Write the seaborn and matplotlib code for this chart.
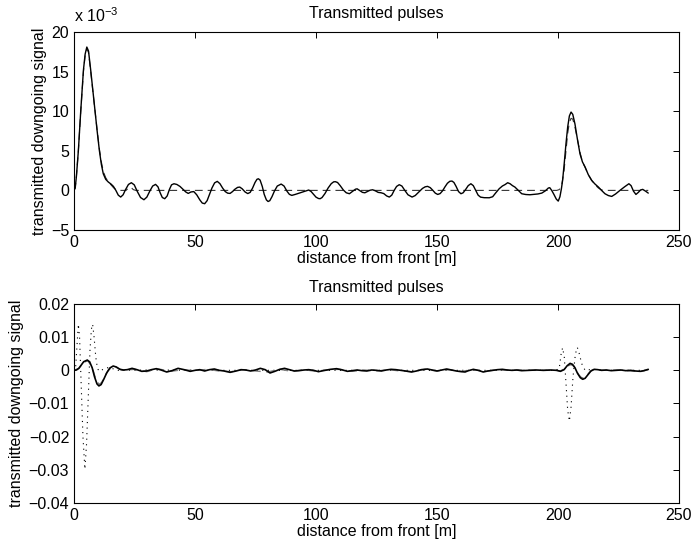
import numpy as np
import pandas as pd
import matplotlib
matplotlib.use("Agg")
import matplotlib.pyplot as plt
import seaborn as sns

# ---------------- data ----------------
# Top panel, values in units of 1e-3
top_solid_x = [0.0, 0.5, 1.0, 1.8, 2.8, 3.9, 4.6, 5.3, 6.0, 6.9, 7.8, 8.7, 9.6, 10.5, 11.3, 12.1, 13.1, 14.2,
               15.3, 16.3, 17.3, 18.3, 19.3, 20.3, 21.3, 22.5, 23.7, 24.9, 26.1, 27.5, 28.9, 30.1, 31.3, 32.5,
               33.7, 34.7, 35.6, 36.5, 37.5, 38.5, 39.4, 40.3, 41.3, 42.5, 43.8, 45.0, 46.2, 47.2, 48.3, 49.5,
               50.7, 52.0, 53.0, 54.0, 55.0, 56.0, 57.0, 58.1, 59.2, 60.3, 61.4, 62.5, 63.5, 64.5, 65.5, 66.5,
               67.6, 68.5, 69.5, 70.7, 71.8, 72.8, 73.8, 74.8, 75.6, 76.2, 76.9, 77.8, 78.6, 79.5, 80.2, 80.9,
               81.8, 82.8, 84.0, 85.6, 86.8, 88.0, 89.0, 90.0, 91.5, 93.0, 94.5, 96.0, 97.0, 98.0, 99.0, 100.0,
               101.0, 101.7, 102.5, 103.7, 105.0, 106.3, 107.3, 108.0, 108.9, 110.0, 111.3, 112.5, 113.8, 115.0,
               116.3, 117.0, 118.0, 119.2, 120.2, 121.2, 122.3, 123.4, 124.5, 125.7, 126.9, 128.0, 129.2, 130.3,
               131.3, 132.3, 133.3, 134.4, 135.5, 136.7, 138.0, 139.7, 141.0, 142.5, 144.0, 145.1, 146.1, 147.2,
               148.3, 149.3, 150.3, 151.3, 152.3, 153.3, 154.3, 155.3, 156.2, 157.0, 157.9, 158.9, 159.9, 160.8,
               161.8, 162.9, 164.0, 165.0, 166.0, 167.0, 168.0, 169.5, 171.6, 173.0, 174.3, 175.7, 177.0, 178.2,
               179.2, 180.2, 181.2, 182.2, 183.6, 185.0, 186.7, 188.4, 190.0, 191.7, 193.3, 194.8, 196.0, 196.6,
               197.4, 198.3, 199.3, 200.1, 200.8, 201.4, 201.9, 202.6, 203.3, 204.0, 204.7, 205.4, 206.1, 207.0,
               208.0, 209.1, 210.1, 211.2, 212.5, 213.9, 215.3, 216.7, 218.0, 219.4, 220.8, 222.2, 223.8, 225.6,
               227.5, 229.3, 230.2, 231.2, 232.2, 233.2, 234.1, 235.0, 236.2, 237.3]
top_solid_y = [0.0, 0.3, 1.8, 5.0, 10.1, 15.2, 17.2, 18.1, 17.6, 15.2, 12.6, 10.1, 7.4, 5.0, 3.3, 2.1, 1.4, 1.05,
               0.8, 0.5, 0.0, -0.6, -0.84, -0.55, 0.1, 0.75, 0.97, 0.7, -0.1, -0.9, -1.18, -0.85, -0.1, 0.55,
               0.76, 0.45, -0.3, -0.9, -1.05, -0.7, 0.1, 0.7, 0.84, 0.75, 0.5, 0.15, -0.2, -0.38, -0.2, -0.15,
               -0.55, -1.2, -1.6, -1.68, -1.3, -0.5, 0.3, 0.95, 1.14, 0.85, 0.3, -0.15, -0.35, -0.38, -0.15, 0.15,
               0.38, 0.42, 0.2, -0.2, -0.4, -0.25, 0.3, 1.0, 1.4, 1.47, 1.3, 0.5, -0.5, -1.2, -1.4, -1.3,
               -0.8, -0.1, 0.55, 0.8, 0.55, -0.1, -0.5, -0.63, -0.5, -0.35, -0.2, -0.05, 0.05, -0.15, -0.5, -0.85,
               -1.02, -1.05, -0.9, -0.4, 0.3, 0.85, 1.08, 1.1, 1.0, 0.6, 0.05, -0.3, -0.42, -0.15,
               0.15, 0.2, 0.0, -0.25, -0.3, -0.15, 0.02, 0.08, -0.05, -0.25, -0.3, -0.4, -0.7, -0.84,
               -0.6, 0.0, 0.5, 0.72, 0.55, 0.0, -0.55, -0.84, -0.65, -0.2, 0.25, 0.45, 0.51, 0.35,
               0.0, -0.35, -0.51, -0.4, -0.05, 0.45, 0.9, 1.15, 1.18, 1.0, 0.5, -0.15, -0.42, -0.3,
               0.1, 0.6, 0.84, 0.6, 0.0, -0.6, -0.85, -0.92, -0.93, -0.8, -0.3, 0.21, 0.55, 0.75,
               0.97, 0.84, 0.6, 0.42, 0.0, -0.42, -0.52, -0.55, -0.5, -0.45, -0.34, -0.05, 0.3, 0.34,
               0.0, -0.5, -1.1, -1.35, -0.8, 0.2, 1.26, 3.5, 5.9, 8.0, 9.4, 9.89, 9.6, 8.4,
               6.5, 4.6, 3.6, 2.95, 2.0, 1.26, 0.8, 0.42, 0.0, -0.42, -0.65, -0.76, -0.45, 0.0,
               0.45, 0.84, 0.6, -0.1, -0.51, -0.25, 0.05, 0.13, -0.1, -0.34]

top_dash_x = [0.0, 0.5, 1.0, 1.8, 2.8, 3.9, 4.6, 5.3, 6.0, 6.9, 7.8, 8.7, 9.6, 10.5, 11.3, 12.1, 13.1, 14.2,
              15.3, 16.3, 17.3, 18.3, 21.5, 22.5, 23.5, 24.5, 25.5, 199.5, 200.5, 201.5, 202.5, 203.3, 204.0,
              204.7, 205.4, 206.1, 207.0, 208.0, 209.1, 210.1, 211.2, 212.5, 213.9, 215.3, 216.7, 218.0, 219.4,
              237.3]
top_dash_y = [0.0, 0.3, 1.8, 5.0, 10.0, 15.0, 17.0, 17.9, 17.4, 15.0, 12.5, 10.0, 7.5, 5.2, 3.6, 2.4, 1.6, 1.1,
              0.7, 0.35, 0.1, 0.0, 0.0, 0.3, 0.4, 0.1, 0.0, 0.0, 0.1, 0.6, 2.5, 5.0, 7.2,
              8.6, 9.1, 9.0, 8.0, 6.5, 4.8, 3.6, 2.9, 2.0, 1.3, 0.7, 0.3, 0.05, 0.0,
              0.0]

# Bottom panel
bot_solid_x = [0, 1, 2, 3, 4, 5.5, 6.5, 7.5, 8.5, 9.5, 10.3, 11.2, 12.3, 13.5, 14.8, 16.2, 17.5, 19, 20.5, 22,
               24, 26, 28, 30, 32, 34, 36, 38.3, 40.5, 43, 45.5, 48, 50, 52, 54, 56, 58, 60, 62, 64.5, 67, 69,
               71, 73, 75, 77, 79, 81, 83, 85, 87, 89, 91, 93, 95, 97, 99, 101, 103, 106, 108.5, 111, 113, 115,
               117, 119, 121, 123, 125, 127, 129, 131, 133, 135, 137, 139.5, 141.5, 143.5, 146, 148, 150, 152,
               154, 156, 158, 160, 161.6, 163, 165, 167, 169.1, 171, 173, 175, 177, 179, 181, 183, 185, 188,
               191, 194, 197, 199.5, 201, 202.5, 203.8, 205, 206, 207, 208, 209.2, 210.2, 211.2, 212.4, 213.6,
               215, 216.5, 218, 220, 222, 224, 226, 228, 230, 232, 234, 235.5, 237.3]
bot_solid_y = [0.0, 0.0001, 0.0006, 0.0016, 0.0026, 0.0031, 0.0025, 0.0008, -0.0020, -0.0041, -0.0047, -0.0043,
               -0.0027, -0.0008, 0.0007, 0.0013, 0.0010, 0.0003, 0.0001, 0.0002, 0.0006, 0.0002, -0.0003, -0.0002,
               0.0002, 0.0005, 0.0001, -0.0005, -0.0001, 0.0006, 0.0002, -0.0003, 0.0, 0.0002, -0.0002, 0.0002,
               0.0004, 0.0, -0.0002, -0.0006, -0.0002, 0.0002, 0.0001, -0.0002, 0.0001, 0.0006, 0.0002, -0.0008,
               -0.0003, 0.0003, 0.0006, 0.0002, -0.0002, -0.0001, 0.0001, 0.0002, 0.0, -0.0004, -0.0001, 0.0003,
               0.0005, 0.0001, -0.0003, -0.0001, 0.0001, -0.0001, -0.0002, 0.0001, 0.0, -0.0002, 0.0001, 0.0003,
               0.0002, 0.0, -0.0002, -0.0005, -0.0002, 0.0002, 0.0004, 0.0001, -0.0002, 0.0001, 0.0004, 0.0001,
               -0.0002, -0.0004, -0.0005, -0.0001, 0.0003, 0.0, -0.0005, -0.0002, 0.0, 0.0002, 0.0003, 0.0001,
               0.0, 0.0001, -0.0001, 0.0, 0.0001, 0.0, 0.0001, 0.0, -0.0003, 0.0002, 0.0014, 0.0021, 0.0018,
               0.0008, -0.0008, -0.0022, -0.0027, -0.0024, -0.0013, -0.0002, 0.0003, 0.0002, 0.0, 0.0001,
               -0.0001, 0.0, 0.0001, -0.0001, 0.0, -0.0002, -0.0003, -0.0001, 0.0003]

bot_dash_x = [0, 2, 4, 5.7, 7.5, 8.5, 9.5, 10.5, 11.5, 12.5, 14, 15.5, 17, 18.5, 20, 25, 30, 35, 40, 45, 50, 55,
              60, 65, 70, 75, 80, 85, 90, 95, 100, 105, 110, 115, 120, 125, 130, 135, 140, 145, 150, 155, 160,
              165, 170, 175, 180, 185, 190, 195, 199, 201, 202.5, 204, 205.3, 206.5, 207.5, 208.5, 209.7, 210.7,
              211.8, 213, 214.3, 215.5, 217, 220, 225, 230, 234, 237.3]
bot_dash_y = [0.0, 0.0006, 0.0024, 0.0029, 0.0010, -0.0015, -0.0035, -0.0042, -0.0036, -0.0020, -0.0002, 0.0009,
              0.0011, 0.0005, 0.0, 0.0003, -0.0004, 0.0004, -0.0003, 0.0002, -0.0001, 0.0003, -0.0002, -0.0004,
              0.0002, -0.0002, -0.0005, 0.0003, -0.0003, 0.0002, -0.0003, 0.0002, 0.0003, -0.0003, 0.0001,
              -0.0002, 0.0002, -0.0002, -0.0004, 0.0003, -0.0002, 0.0002, -0.0003, 0.0002, -0.0003, 0.0002, 0.0,
              0.0001, 0.0, 0.0, 0.0, -0.0002, 0.0004, 0.0013, 0.0017, 0.0013, 0.0, -0.0013, -0.0022, -0.0023,
              -0.0017, -0.0006, 0.0002, 0.0004, 0.0001, 0.0, 0.0001, -0.0002, -0.0004, 0.0002]

bot_dot_x = [0, 0.6, 1.2, 1.8, 2.3, 3.0, 3.7, 4.5, 5.2, 5.9, 6.6, 7.2, 7.7, 8.3, 9.0, 9.7, 10.5, 12, 14, 16, 18,
             25, 30, 60, 100, 150, 199, 200.5, 201.3, 201.9, 202.6, 203.4, 204.0, 204.7, 205.4, 206.2, 207.2,
             208.0, 208.8, 209.8, 211.2, 214, 220, 237.3]
bot_dot_y = [0.0, 0.0, 0.007, 0.0139, 0.010, -0.005, -0.020, -0.0298, -0.022, -0.008, 0.006, 0.0125, 0.0139,
             0.010, 0.004, 0.0005, -0.0003, 0.0003, 0.0008, 0.0005, 0.0, 0.0, 0.0001, 0.0, 0.0, 0.0, 0.0, 0.0005,
             0.005, 0.0068, 0.004, -0.005, -0.012, -0.0153, -0.011, -0.002, 0.005, 0.0069, 0.005, 0.002, 0.0,
             0.0003, 0.0, 0.0]

title_text = "Transmitted pulses"
xlabel_text = "distance from front [m]"
ylabel_text = "transmitted downgoing signal"
x_ticks = [0, 50, 100, 150, 200, 250]
top_yticks = [-5, 0, 5, 10, 15, 20]
bot_yticks = [-0.04, -0.03, -0.02, -0.01, 0, 0.01, 0.02]
bot_yticklabels = ["\u22120.04", "\u22120.03", "\u22120.02", "\u22120.01", "0", "0.01", "0.02"]

# ---------------- style ----------------
sns.set_theme(style="white")
plt.rcParams["font.family"] = ["Liberation Sans", "DejaVu Sans"]
plt.rcParams.update({
    "axes.edgecolor": "black",
    "axes.linewidth": 0.8,
    "xtick.direction": "in",
    "ytick.direction": "in",
    "xtick.top": True,
    "ytick.right": True,
    "xtick.major.size": 4,
    "ytick.major.size": 4,
    "xtick.major.width": 0.7,
    "ytick.major.width": 0.7,
    "xtick.color": "black",
    "ytick.color": "black",
    "text.color": "black",
    "axes.labelcolor": "black",
})
FS = 11.5

fig = plt.figure(figsize=(6.92, 5.46), dpi=100)
ax1 = fig.add_axes([74 / 692, 1 - 230 / 546, (679 - 74) / 692, (230 - 32) / 546])
ax2 = fig.add_axes([74 / 692, 1 - 503 / 546, (679 - 74) / 692, (503 - 304) / 546])

df_ts = pd.DataFrame({"x": top_solid_x, "y": top_solid_y})
df_td = pd.DataFrame({"x": top_dash_x, "y": top_dash_y})
sns.lineplot(data=df_td, x="x", y="y", ax=ax1, color="#333333", lw=0.8, sort=False, estimator=None)
ax1.lines[-1].set_linestyle((0, (7, 4.5)))
sns.lineplot(data=df_ts, x="x", y="y", ax=ax1, color="black", lw=1.0, sort=False, estimator=None)

df_bs = pd.DataFrame({"x": bot_solid_x, "y": bot_solid_y})
df_bd = pd.DataFrame({"x": bot_dash_x, "y": bot_dash_y})
df_bo = pd.DataFrame({"x": bot_dot_x, "y": bot_dot_y})
sns.lineplot(data=df_bo, x="x", y="y", ax=ax2, color="black", lw=0.8, sort=False, estimator=None)
ax2.lines[-1].set_linestyle((0, (1, 4)))
sns.lineplot(data=df_bd, x="x", y="y", ax=ax2, color="#808080", lw=1.0, sort=False, estimator=None)
ax2.lines[-1].set_linestyle((0, (6, 4)))
sns.lineplot(data=df_bs, x="x", y="y", ax=ax2, color="black", lw=1.2, sort=False, estimator=None)

for ax in (ax1, ax2):
    ax.set_xlim(0, 250)
    ax.set_xticks(x_ticks)
    ax.set_xticklabels([str(t) for t in x_ticks], fontsize=FS)
    ax.set_xlabel(xlabel_text, fontsize=FS, labelpad=1)
    ax.set_ylabel(ylabel_text, fontsize=FS, labelpad=3)
    ax.grid(False)
    for s in ax.spines.values():
        s.set_visible(True)
        s.set_color("black")

ax1.set_ylim(-5, 20)
ax1.set_yticks(top_yticks)
ax1.set_yticklabels([str(t).replace("-", "\u2212") for t in top_yticks], fontsize=FS)
ax1.set_title(title_text, fontsize=FS, pad=10)
ax1.text(0.0, 1.035, "x 10$^{\\mathregular{\u22123}}$", transform=ax1.transAxes, fontsize=FS,
         ha="left", va="bottom")

ax2.set_ylim(-0.04, 0.02)
ax2.set_yticks(bot_yticks)
ax2.set_yticklabels(bot_yticklabels, fontsize=FS)
ax2.set_title(title_text, fontsize=FS, pad=8.5)

fig.savefig("out.png", dpi=100)
